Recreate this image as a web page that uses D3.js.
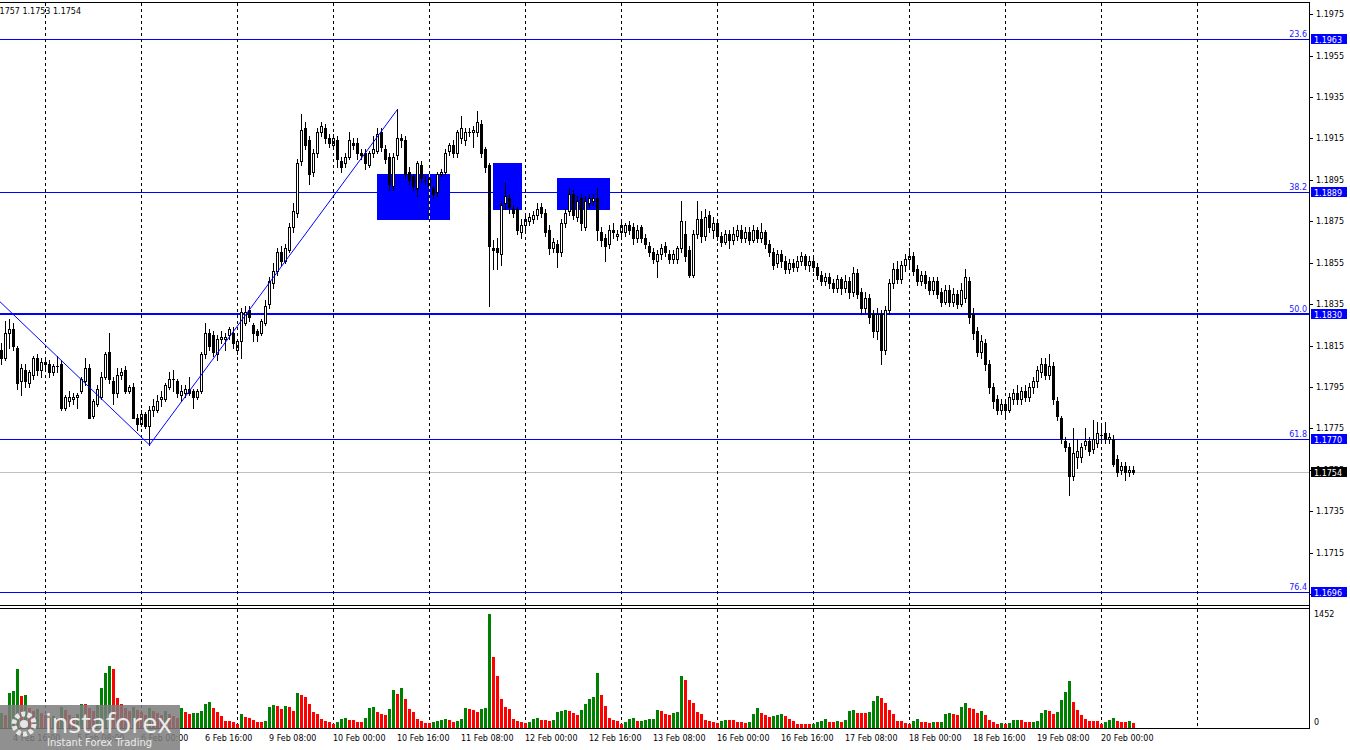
<!DOCTYPE html>
<html><head><meta charset="utf-8">
<script src="https://cdnjs.cloudflare.com/ajax/libs/d3/7.8.5/d3.min.js"></script>
<style>
html,body{margin:0;padding:0;background:#fff;}
svg{display:block;font-family:"DejaVu Sans",sans-serif;}
</style></head><body>
<svg id="c" width="1350" height="750"></svg>
<script>
// ---------------- DATA ----------------
const symbol = "EURUSD,H1";
const openP = [
1.1813,1.1809,1.1821,1.1823,1.1814,1.1798,1.1803,1.1797,1.1801,1.1809,
1.1803,1.1807,1.1806,1.1802,1.1805,1.1806,1.1785,1.1788,1.1789,1.1790,
1.1793,1.1798,1.1804,1.1781,1.1787,1.1790,1.1800,1.1812,1.1798,1.1792,
1.1801,1.1803,1.1793,1.1795,1.1780,1.1777,1.1782,1.1776,1.1784,1.1784,
1.1789,1.1789,1.1795,1.1799,1.1798,1.1791,1.1792,1.1794,1.1793,1.1790,
1.1793,1.1811,1.1821,1.1820,1.1811,1.1818,1.1818,1.1820,1.1821,1.1813,
1.1817,1.1826,1.1832,1.1825,1.1822,1.1821,1.1826,1.1835,1.1845,1.1851,
1.1860,1.1856,1.1861,1.1872,1.1879,1.1904,1.1920,1.1914,1.1899,1.1908,
1.1918,1.1920,1.1915,1.1912,1.1914,1.1904,1.1903,1.1906,1.1913,1.1913,
1.1908,1.1908,1.1902,1.1908,1.1909,1.1918,1.1910,1.1906,1.1892,1.1907,
1.1915,1.1914,1.1899,1.1897,1.1891,1.1902,1.1895,1.1896,1.1891,1.1889,
1.1898,1.1899,1.1909,1.1912,1.1908,1.1915,1.1914,1.1918,1.1918,1.1918,
1.1922,1.1910,1.1902,1.1862,1.1862,1.1859,1.1884,1.1886,1.1881,1.1881,
1.1870,1.1873,1.1875,1.1876,1.1878,1.1882,1.1879,1.1871,1.1862,1.1864,
1.1860,1.1874,1.1880,1.1888,1.1877,1.1886,1.1872,1.1884,1.1885,1.1886,
1.1870,1.1867,1.1864,1.1871,1.1868,1.1870,1.1870,1.1873,1.1872,1.1867,
1.1872,1.1867,1.1863,1.1860,1.1856,1.1859,1.1863,1.1859,1.1857,1.1857,
1.1862,1.1869,1.1861,1.1849,1.1869,1.1876,1.1868,1.1878,1.1871,1.1874,
1.1868,1.1865,1.1869,1.1866,1.1868,1.1871,1.1867,1.1870,1.1866,1.1871,
1.1867,1.1870,1.1864,1.1860,1.1855,1.1859,1.1856,1.1852,1.1855,1.1853,
1.1856,1.1858,1.1854,1.1856,1.1853,1.1849,1.1846,1.1848,1.1845,1.1843,
1.1847,1.1843,1.1846,1.1841,1.1850,1.1841,1.1833,1.1838,1.1830,1.1822,
1.1830,1.1813,1.1832,1.1845,1.1852,1.1847,1.1854,1.1857,1.1858,1.1852,
1.1846,1.1849,1.1846,1.1842,1.1846,1.1841,1.1836,1.1842,1.1836,1.1840,
1.1835,1.1838,1.1846,1.1830,1.1822,1.1812,1.1816,1.1806,1.1795,1.1789,
1.1784,1.1787,1.1784,1.1789,1.1792,1.1789,1.1793,1.1790,1.1795,1.1798,
1.1802,1.1806,1.1801,1.1805,1.1788,1.1780,1.1769,1.1766,1.1752,1.1761,
1.1761,1.1767,1.1769,1.1765,1.1768,1.1772,1.1773,1.1770,1.1770,1.1760,
1.1755,1.1757,1.1754,1.1755];
const highP = [
1.1816,1.1827,1.1828,1.1826,1.1815,1.1806,1.1806,1.1803,1.1810,1.1811,
1.1809,1.1808,1.1808,1.1806,1.1810,1.1808,1.1791,1.1793,1.1792,1.1792,
1.1800,1.1809,1.1806,1.1789,1.1796,1.1802,1.1812,1.1821,1.1800,1.1804,
1.1804,1.1805,1.1796,1.1797,1.1782,1.1784,1.1783,1.1786,1.1789,1.1791,
1.1793,1.1797,1.1802,1.1803,1.1799,1.1796,1.1796,1.1800,1.1794,1.1794,
1.1812,1.1826,1.1823,1.1822,1.1820,1.1822,1.1821,1.1824,1.1824,1.1818,
1.1833,1.1834,1.1834,1.1826,1.1823,1.1828,1.1837,1.1848,1.1855,1.1862,
1.1863,1.1864,1.1874,1.1884,1.1905,1.1927,1.1923,1.1916,1.1910,1.1920,
1.1923,1.1922,1.1917,1.1917,1.1916,1.1906,1.1908,1.1918,1.1915,1.1915,
1.1910,1.1910,1.1909,1.1916,1.1920,1.1920,1.1912,1.1908,1.1908,1.1929,
1.1917,1.1916,1.1901,1.1898,1.1904,1.1904,1.1897,1.1898,1.1892,1.1899,
1.1900,1.1910,1.1913,1.1914,1.1919,1.1926,1.1920,1.1920,1.1921,1.1928,
1.1924,1.1911,1.1903,1.1866,1.1867,1.1885,1.1894,1.1888,1.1883,1.1882,
1.1876,1.1879,1.1879,1.1880,1.1884,1.1884,1.1881,1.1873,1.1867,1.1866,
1.1876,1.1881,1.1891,1.1890,1.1887,1.1888,1.1887,1.1888,1.1888,1.1891,
1.1872,1.1869,1.1873,1.1874,1.1871,1.1875,1.1874,1.1875,1.1874,1.1873,
1.1873,1.1869,1.1865,1.1862,1.1861,1.1864,1.1865,1.1861,1.1861,1.1863,
1.1885,1.1875,1.1863,1.1871,1.1885,1.1880,1.1881,1.1880,1.1877,1.1876,
1.1870,1.1871,1.1871,1.1872,1.1873,1.1873,1.1872,1.1872,1.1873,1.1872,
1.1874,1.1871,1.1866,1.1862,1.1861,1.1861,1.1858,1.1857,1.1857,1.1858,
1.1860,1.1859,1.1858,1.1858,1.1855,1.1851,1.1850,1.1850,1.1847,1.1849,
1.1848,1.1849,1.1848,1.1853,1.1852,1.1843,1.1841,1.1840,1.1832,1.1833,
1.1832,1.1834,1.1847,1.1855,1.1856,1.1856,1.1859,1.1862,1.1860,1.1854,
1.1851,1.1851,1.1848,1.1848,1.1848,1.1843,1.1844,1.1844,1.1843,1.1842,
1.1845,1.1852,1.1848,1.1833,1.1824,1.1820,1.1818,1.1808,1.1797,1.1791,
1.1789,1.1789,1.1792,1.1794,1.1796,1.1795,1.1796,1.1797,1.1800,1.1805,
1.1809,1.1809,1.1811,1.1807,1.1790,1.1781,1.1771,1.1768,1.1775,1.1770,
1.1768,1.1775,1.1771,1.1779,1.1778,1.1776,1.1778,1.1773,1.1772,1.1762,
1.1759,1.1759,1.1757,1.1757];
const lowP = [
1.1806,1.1808,1.1814,1.1813,1.1794,1.1791,1.1795,1.1795,1.1799,1.1801,
1.1800,1.1804,1.1800,1.1801,1.1802,1.1784,1.1784,1.1786,1.1787,1.1785,
1.1792,1.1796,1.1780,1.1780,1.1786,1.1789,1.1799,1.1797,1.1787,1.1790,
1.1799,1.1792,1.1792,1.1780,1.1774,1.1776,1.1775,1.1767,1.1781,1.1783,
1.1786,1.1788,1.1794,1.1793,1.1790,1.1788,1.1790,1.1791,1.1785,1.1789,
1.1792,1.1809,1.1813,1.1810,1.1808,1.1816,1.1813,1.1818,1.1814,1.1811,
1.1809,1.1825,1.1827,1.1817,1.1817,1.1820,1.1825,1.1833,1.1843,1.1849,
1.1854,1.1855,1.1860,1.1870,1.1877,1.1902,1.1910,1.1893,1.1897,1.1906,
1.1916,1.1913,1.1911,1.1910,1.1901,1.1899,1.1901,1.1905,1.1910,1.1905,
1.1905,1.1900,1.1901,1.1906,1.1908,1.1909,1.1903,1.1890,1.1890,1.1905,
1.1911,1.1896,1.1893,1.1890,1.1887,1.1894,1.1893,1.1889,1.1886,1.1887,
1.1897,1.1898,1.1907,1.1906,1.1906,1.1913,1.1912,1.1916,1.1911,1.1916,
1.1906,1.1899,1.1834,1.1852,1.1852,1.1854,1.1881,1.1879,1.1877,1.1869,
1.1867,1.1871,1.1873,1.1874,1.1876,1.1877,1.1868,1.1859,1.1860,1.1853,
1.1858,1.1872,1.1878,1.1876,1.1875,1.1871,1.1871,1.1882,1.1883,1.1866,
1.1863,1.1856,1.1862,1.1867,1.1866,1.1868,1.1868,1.1869,1.1864,1.1865,
1.1865,1.1862,1.1858,1.1855,1.1848,1.1857,1.1858,1.1855,1.1855,1.1855,
1.1860,1.1856,1.1848,1.1848,1.1867,1.1865,1.1866,1.1870,1.1867,1.1866,
1.1863,1.1864,1.1862,1.1864,1.1866,1.1865,1.1865,1.1864,1.1865,1.1865,
1.1865,1.1862,1.1858,1.1852,1.1853,1.1853,1.1850,1.1850,1.1851,1.1851,
1.1854,1.1852,1.1851,1.1851,1.1847,1.1844,1.1844,1.1843,1.1841,1.1841,
1.1840,1.1841,1.1838,1.1839,1.1838,1.1830,1.1831,1.1826,1.1819,1.1818,
1.1806,1.1811,1.1830,1.1843,1.1845,1.1845,1.1851,1.1853,1.1849,1.1844,
1.1844,1.1843,1.1840,1.1840,1.1838,1.1834,1.1835,1.1834,1.1834,1.1833,
1.1834,1.1836,1.1826,1.1818,1.1810,1.1809,1.1803,1.1792,1.1785,1.1782,
1.1782,1.1781,1.1783,1.1787,1.1787,1.1787,1.1788,1.1788,1.1792,1.1795,
1.1800,1.1799,1.1799,1.1787,1.1779,1.1768,1.1764,1.1743,1.1750,1.1756,
1.1759,1.1765,1.1762,1.1763,1.1766,1.1769,1.1768,1.1768,1.1757,1.1752,
1.1753,1.1750,1.1752,1.1753];
const closeP = [
1.1809,1.1821,1.1823,1.1815,1.1797,1.1804,1.1798,1.1802,1.1809,1.1803,
1.1807,1.1806,1.1802,1.1805,1.1805,1.1785,1.1790,1.1790,1.1790,1.1791,
1.1799,1.1804,1.1780,1.1788,1.1794,1.1800,1.1811,1.1799,1.1792,1.1801,
1.1802,1.1793,1.1795,1.1780,1.1777,1.1782,1.1776,1.1784,1.1786,1.1788,
1.1790,1.1796,1.1799,1.1799,1.1792,1.1793,1.1794,1.1792,1.1790,1.1793,
1.1811,1.1821,1.1815,1.1812,1.1818,1.1819,1.1819,1.1823,1.1816,1.1817,
1.1831,1.1831,1.1829,1.1821,1.1820,1.1827,1.1834,1.1846,1.1851,1.1860,
1.1856,1.1862,1.1872,1.1880,1.1903,1.1919,1.1912,1.1898,1.1908,1.1918,
1.1921,1.1915,1.1913,1.1915,1.1905,1.1901,1.1906,1.1914,1.1912,1.1908,
1.1907,1.1903,1.1908,1.1910,1.1917,1.1911,1.1905,1.1893,1.1906,1.1915,
1.1914,1.1898,1.1895,1.1892,1.1903,1.1896,1.1895,1.1892,1.1888,1.1898,
1.1899,1.1908,1.1912,1.1908,1.1918,1.1920,1.1918,1.1918,1.1919,1.1923,
1.1908,1.1901,1.1863,1.1861,1.1860,1.1883,1.1887,1.1882,1.1879,1.1871,
1.1873,1.1876,1.1877,1.1878,1.1881,1.1879,1.1870,1.1862,1.1865,1.1860,
1.1874,1.1879,1.1888,1.1878,1.1885,1.1874,1.1885,1.1886,1.1886,1.1871,
1.1866,1.1863,1.1871,1.1870,1.1869,1.1873,1.1873,1.1871,1.1867,1.1871,
1.1867,1.1864,1.1860,1.1857,1.1859,1.1862,1.1860,1.1857,1.1859,1.1862,
1.1875,1.1858,1.1849,1.1869,1.1876,1.1868,1.1877,1.1872,1.1874,1.1868,
1.1865,1.1869,1.1866,1.1869,1.1871,1.1867,1.1870,1.1866,1.1871,1.1867,
1.1870,1.1864,1.1860,1.1854,1.1859,1.1856,1.1852,1.1855,1.1853,1.1856,
1.1858,1.1854,1.1856,1.1853,1.1849,1.1846,1.1848,1.1845,1.1843,1.1847,
1.1843,1.1846,1.1841,1.1850,1.1840,1.1833,1.1838,1.1829,1.1822,1.1830,
1.1813,1.1832,1.1845,1.1852,1.1847,1.1854,1.1857,1.1858,1.1851,1.1846,
1.1849,1.1845,1.1842,1.1846,1.1840,1.1836,1.1842,1.1836,1.1840,1.1835,
1.1842,1.1848,1.1829,1.1821,1.1812,1.1817,1.1806,1.1795,1.1788,1.1784,
1.1787,1.1784,1.1790,1.1792,1.1789,1.1793,1.1790,1.1795,1.1798,1.1803,
1.1806,1.1801,1.1805,1.1789,1.1781,1.1770,1.1766,1.1752,1.1763,1.1764,
1.1766,1.1769,1.1764,1.1770,1.1773,1.1772,1.1770,1.1771,1.1758,1.1754,
1.1757,1.1754,1.1755,1.1754];
const volume = [
180,160,437,463,745,398,411,250,200,230,
180,150,120,140,110,260,220,160,130,170,
296,290,250,200,280,501,698,784,749,377,
300,250,200,260,220,190,160,250,210,180,
150,200,170,140,110,240,189,167,176,178,
206,291,321,244,193,146,77,76,68,39,
167,124,122,86,64,63,77,261,283,270,
231,270,257,206,437,411,390,296,193,167,
103,81,68,39,68,103,116,90,89,64,
63,116,244,261,193,167,154,231,475,424,
501,360,231,193,103,81,56,51,64,77,
90,103,90,64,77,103,244,231,218,193,
231,244,1452,900,655,360,257,231,103,77,
68,56,70,103,116,90,89,77,90,197,
210,218,206,184,154,218,296,360,385,698,
411,270,116,90,81,43,68,103,116,77,
80,90,103,105,218,206,167,154,180,193,
655,604,347,308,193,167,90,77,64,51,
77,90,89,88,64,63,47,68,167,244,
180,154,129,141,154,167,141,103,77,39,
38,37,36,39,64,77,103,64,63,77,
64,90,206,218,180,179,178,193,334,399,
373,308,218,167,77,76,51,39,77,103,
64,63,51,64,63,64,167,180,167,154,
261,308,248,231,180,206,154,90,64,39,
51,39,51,90,91,88,64,63,65,77,
180,218,206,167,193,347,450,591,321,218,
154,103,77,76,75,39,64,90,116,77,
64,63,77,51];
const volumeMax = 1452;
const timeLabels = ["4 Feb 16:00","5 Feb 08:00","6 Feb 00:00","6 Feb 16:00","9 Feb 08:00","10 Feb 00:00","10 Feb 16:00","11 Feb 08:00","12 Feb 00:00","12 Feb 16:00","13 Feb 08:00","16 Feb 00:00","16 Feb 16:00","17 Feb 08:00","18 Feb 00:00","18 Feb 16:00","19 Feb 08:00","20 Feb 00:00"];
const timeLabelIdx = [3,19,35,51,67,83,99,115,131,147,163,179,195,211,227,243,259,275];
const dayGridIdx = [11,35,59,83,107,131,155,179,203,227,251,275,299];
const priceTicks = [1.1695,1.1715,1.1735,1.1755,1.1775,1.1795,1.1815,1.1835,1.1855,1.1875,1.1895,1.1915,1.1935,1.1955,1.1975];
const fibNames = ["23.6","38.2","50.0","61.8","76.4"];
const fibPrices = [1.1963,1.1889,1.1830,1.1770,1.1696];
const zoneStartIdx = [94,123,139];
const zoneEndIdx = [112,130,152];
const zoneTop = [1.1898,1.1903,1.1896];
const zoneBottom = [1.1876,1.1881,1.1881];
const zigzagIdx = [-3,37,99];
const zigzagPrice = [1.1841,1.1767,1.1929];

// ---------------- LAYOUT ----------------
const axisX = 1309, mainTop = 2, mainBottom = 605, volTop = 608, volBottom = 728;
const svg = d3.select("#c");
const x = d3.scaleLinear().domain([0, 299]).range([1, 1197]);
const y = d3.scaleLinear().domain([1.1696, 1.1963]).range([592, 39]);
const yv = d3.scaleLinear().domain([0, volumeMax]).range([727, 614]);
const ry = p => Math.round(y(p));
const BLUE = "#0000ff";

svg.append("rect").attr("width",1350).attr("height",750).attr("fill","#fff");
const defs = svg.append("defs");
defs.append("clipPath").attr("id","mainClip").append("rect")
  .attr("x",0).attr("y",mainTop+1).attr("width",axisX).attr("height",mainBottom-mainTop-1);

const main = svg.append("g").attr("clip-path","url(#mainClip)").attr("shape-rendering","crispEdges");

// zones (rectangles)
const zones = zoneStartIdx.map((s,k)=>({s, e:zoneEndIdx[k], t:zoneTop[k], b:zoneBottom[k]}));
main.selectAll("rect.zone").data(zones).join("rect").attr("class","zone")
  .attr("x",d=>x(d.s)).attr("width",d=>x(d.e)-x(d.s)+1)
  .attr("y",d=>ry(d.t)).attr("height",d=>ry(d.b)-ry(d.t)+1)
  .attr("fill",BLUE);

// day grid lines (dashed)
const grid = svg.append("g").attr("shape-rendering","crispEdges");
dayGridIdx.forEach(i=>{
  const gx = x(i)+0.5;
  [[mainTop+1,mainBottom],[volTop+1,volBottom]].forEach(([a,b])=>{
    grid.append("line").attr("x1",gx).attr("x2",gx).attr("y1",a).attr("y2",b)
      .attr("stroke","#000").attr("stroke-dasharray","3,3");
  });
  zones.forEach(z=>{
    if (i>z.s && i<z.e) {
      grid.append("line").attr("x1",gx).attr("x2",gx).attr("y1",ry(z.t)).attr("y2",ry(z.b)+1)
        .attr("stroke","#ffff80").attr("stroke-dasharray","3,3");
    }
  });
});

// fib lines
fibPrices.forEach((p,k)=>{
  const w = fibNames[k]==="50.0" ? 2 : 1;
  const ly = ry(p) + (w===1?0.5:0);
  main.append("line").attr("x1",0).attr("x2",axisX).attr("y1",ly).attr("y2",ly)
    .attr("stroke",BLUE).attr("stroke-width",w);
});
// current price line
const last = closeP.length-1;
main.append("line").attr("x1",0).attr("x2",axisX).attr("y1",ry(closeP[last])+0.5).attr("y2",ry(closeP[last])+0.5)
  .attr("stroke","#c0c0c0");

// zigzag
const zz = zigzagIdx.map((i,k)=>[i, zigzagPrice[k]]);
svg.append("g").attr("clip-path","url(#mainClip)").append("path")
  .attr("d", d3.line().x(d=>x(d[0])+0.5).y(d=>y(d[1]))(zz))
  .attr("fill","none").attr("stroke",BLUE).attr("stroke-width",1);

// candles
const candles = main.append("g");
openP.forEach((o,i)=>{
  const h = highP[i], l = lowP[i], c = closeP[i];
  const cx = x(i);
  const yh = ry(h), yl = ry(l);
  candles.append("rect").attr("x",cx).attr("y",yh).attr("width",1).attr("height",yl-yh+1).attr("fill","#000");
  const top = ry(Math.max(o,c)), bot = ry(Math.min(o,c));
  candles.append("rect").attr("x",cx-1).attr("y",top).attr("width",3).attr("height",bot-top+1).attr("fill","#000");
  if (c > o && bot-top-1 > 0) {
    candles.append("rect").attr("x",cx).attr("y",top+1).attr("width",1).attr("height",bot-top-1).attr("fill","#fff");
  }
});

// volume bars
const vol = svg.append("g").attr("shape-rendering","crispEdges");
volume.forEach((v,i)=>{
  const vy = Math.round(yv(v));
  vol.append("rect").attr("x",x(i)-1).attr("y",vy).attr("width",3).attr("height",volBottom-vy)
    .attr("fill", (i>0 && v>volume[i-1]) || i===0 ? "#008000" : "#ff0000");
});

// frames
const frame = svg.append("g").attr("shape-rendering","crispEdges").attr("stroke","#000");
frame.append("line").attr("x1",0).attr("x2",axisX+1).attr("y1",mainTop+0.5).attr("y2",mainTop+0.5);
frame.append("line").attr("x1",0).attr("x2",axisX+1).attr("y1",mainBottom+0.5).attr("y2",mainBottom+0.5);
frame.append("line").attr("x1",0).attr("x2",axisX+1).attr("y1",volTop+0.5).attr("y2",volTop+0.5);
frame.append("line").attr("x1",0).attr("x2",axisX+1).attr("y1",volBottom+0.5).attr("y2",volBottom+0.5);
frame.append("line").attr("x1",axisX+0.5).attr("x2",axisX+0.5).attr("y1",mainTop).attr("y2",volBottom+1);

// price axis
const pAxis = svg.append("g").attr("transform",`translate(${axisX+1},0)`)
  .call(d3.axisRight(y).tickValues(priceTicks).tickSize(3).tickPadding(3).tickFormat(d3.format(".4f")));
pAxis.select(".domain").remove();
pAxis.selectAll("text").attr("font-size","8px").attr("font-family","DejaVu Sans").attr("fill","#000");
pAxis.selectAll("line").attr("shape-rendering","crispEdges");

// fib labels on chart and on axis
fibPrices.forEach((p,k)=>{
  const ly = ry(p);
  svg.append("text").attr("x",axisX-2).attr("y",ly-2).attr("text-anchor","end")
    .attr("font-size","8px").attr("fill","#2020ff").text(fibNames[k]);
  svg.append("rect").attr("x",axisX+2).attr("y",ly-5).attr("width",36).attr("height",10).attr("fill",BLUE);
  svg.append("text").attr("x",axisX+5).attr("y",ly+3.5).attr("font-size","8px").attr("fill","#fff")
    .text(d3.format(".4f")(p));
});
// current price label
{
  const ly = ry(closeP[last]);
  svg.append("rect").attr("x",axisX+2).attr("y",ly-5).attr("width",36).attr("height",10).attr("fill","#000");
  svg.append("text").attr("x",axisX+5).attr("y",ly+3.5).attr("font-size","8px").attr("fill","#fff")
    .text(d3.format(".4f")(closeP[last]));
}

// volume axis labels
const vAxis = svg.append("g").attr("transform",`translate(${axisX+1},0)`)
  .call(d3.axisRight(yv).tickValues([0, volumeMax]).tickSize(0).tickPadding(4).tickFormat(d3.format("d")));
vAxis.select(".domain").remove();
vAxis.selectAll("text").attr("font-size","8px").attr("font-family","DejaVu Sans").attr("fill","#000")
  .attr("dy", d => d===0 ? "-0.3em" : "0.32em");

// time labels
const tg = svg.append("g");
timeLabelIdx.forEach((i,k)=>{
  tg.append("text").attr("x",x(i)).attr("y",volBottom+13).attr("font-size","8px").attr("fill","#000").text(timeLabels[k]);
});

// header text (OHLC of last bar)
svg.append("text").attr("x",81).attr("y",13.5).attr("text-anchor","end").attr("font-size","8px").attr("fill","#000")
  .text(`${symbol}  ${d3.format(".4f")(openP[last])} ${d3.format(".4f")(highP[last])} ${d3.format(".4f")(lowP[last])} ${d3.format(".4f")(closeP[last])}`);

// watermark logo
const logo = svg.append("g");
logo.append("rect").attr("x",0).attr("y",705).attr("width",180).attr("height",45).attr("fill","rgba(125,125,125,0.85)");
logo.append("circle").attr("cx",24).attr("cy",724).attr("r",10).attr("fill","none")
  .attr("stroke","#e6e6e6").attr("stroke-width",5).attr("stroke-dasharray","4,2.3");
logo.append("circle").attr("cx",24).attr("cy",724).attr("r",4).attr("fill","#e6e6e6");
logo.append("text").attr("x",45).attr("y",733).attr("font-size","27px").attr("font-family","Open Sans, DejaVu Sans")
  .attr("fill","#ececec").text("instaforex");
logo.append("text").attr("x",47).attr("y",746).attr("font-size","10px").attr("font-family","DejaVu Sans")
  .attr("fill","#ececec").text("Instant Forex Trading");
</script>
</body></html>
